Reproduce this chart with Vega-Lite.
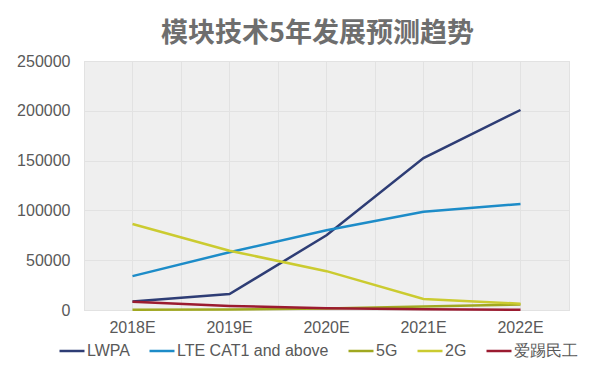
{
  "$schema": "https://vega.github.io/schema/vega-lite/v6.json",
  "width": 485,
  "height": 249,
  "autosize": {"type": "none"},
  "padding": {"left": 84, "top": 61, "right": 22, "bottom": 62},
  "background": "#ffffff",
  "title": {"text": "模块技术5年发展预测趋势", "fontSize": 27, "font": "Noto Sans CJK SC", "fontWeight": "bold", "color": "#6e6e6e", "anchor": "middle", "dx": -9, "offset": 5},
  "config": {
    "view": {"fill": "#efefef", "stroke": "#d9d9d9", "strokeWidth": 1},
    "font": "Liberation Sans",
    "axis": {"labelFont": "Liberation Sans", "labelFontSize": 16, "labelColor": "#595959", "gridColor": "#e2e2e2", "gridWidth": 1, "domain": false, "ticks": false, "title": null}
  },
  "data": {"values": [
    {"series": "LWPA", "year": "2018E", "value": 8500},
    {"series": "LWPA", "year": "2019E", "value": 16000},
    {"series": "LWPA", "year": "2020E", "value": 75000},
    {"series": "LWPA", "year": "2021E", "value": 152500},
    {"series": "LWPA", "year": "2022E", "value": 200800},
    {"series": "LTE CAT1 and above", "year": "2018E", "value": 34000},
    {"series": "LTE CAT1 and above", "year": "2019E", "value": 58000},
    {"series": "LTE CAT1 and above", "year": "2020E", "value": 80000},
    {"series": "LTE CAT1 and above", "year": "2021E", "value": 98700},
    {"series": "LTE CAT1 and above", "year": "2022E", "value": 106400},
    {"series": "5G", "year": "2018E", "value": 200},
    {"series": "5G", "year": "2019E", "value": 400},
    {"series": "5G", "year": "2020E", "value": 1500},
    {"series": "5G", "year": "2021E", "value": 3400},
    {"series": "5G", "year": "2022E", "value": 5600},
    {"series": "2G", "year": "2018E", "value": 86300},
    {"series": "2G", "year": "2019E", "value": 59500},
    {"series": "2G", "year": "2020E", "value": 39000},
    {"series": "2G", "year": "2021E", "value": 11000},
    {"series": "2G", "year": "2022E", "value": 6300},
    {"series": "爱踢民工", "year": "2018E", "value": 8300},
    {"series": "爱踢民工", "year": "2019E", "value": 4000},
    {"series": "爱踢民工", "year": "2020E", "value": 1800},
    {"series": "爱踢民工", "year": "2021E", "value": 800},
    {"series": "爱踢民工", "year": "2022E", "value": 300}
  ]},
  "layer": [
    {
      "mark": {"type": "line", "strokeWidth": 2.5},
      "encoding": {
        "x": {"field": "year", "type": "ordinal", "bandPosition": 0.5, "scale": {"type": "band", "paddingInner": 0, "paddingOuter": 0}, "axis": {"labelAngle": 0, "grid": true, "tickBand": "center", "labelPadding": 9}},
        "y": {"field": "value", "type": "quantitative", "scale": {"domain": [0, 250000]}, "axis": {"values": [0, 50000, 100000, 150000, 200000, 250000], "format": "d", "labelPadding": 14, "grid": true}},
        "color": {
          "field": "series", "type": "nominal",
          "scale": {"domain": ["LWPA", "LTE CAT1 and above", "5G", "2G", "爱踢民工"], "range": ["#2e3d75", "#1d8cc8", "#a0a820", "#cbcb30", "#9b1b30"]},
          "legend": {"title": null, "orient": "none", "legendX": -26, "legendY": 276, "direction": "horizontal", "symbolType": "stroke", "symbolSize": 625, "symbolStrokeWidth": 2.5, "labelFontSize": 16, "labelColor": "#595959", "labelFont": "Liberation Sans", "columnPadding": 14, "labelOffset": 1}
        }
      }
    },
    {
      "mark": {"type": "rule", "opacity": 0},
      "encoding": {
        "x": {"field": "year", "type": "ordinal", "axis": {"grid": true, "tickBand": "extent", "labels": false, "orient": "bottom"}}
      }
    }
  ],
  "resolve": {"axis": {"x": "independent"}}
}
